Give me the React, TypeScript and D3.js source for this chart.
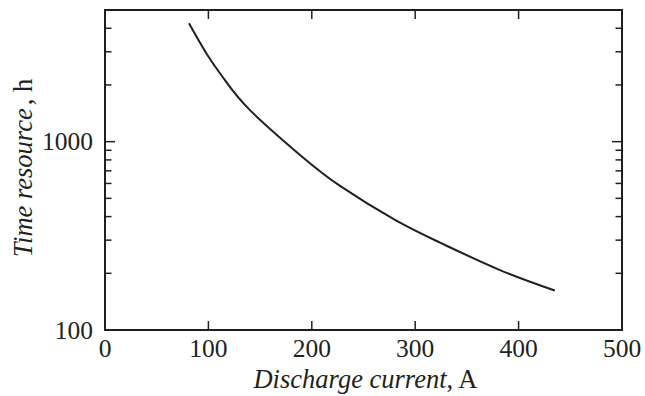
import React from "react";
import * as d3 from "d3";

const currentA = [81.2, 100, 116, 140.2, 188.6, 227.3, 280.5, 324, 382, 435];
const timeH = [4256, 2830, 2120, 1470, 850, 582, 384, 291, 208, 162];
const xTicks = [0, 100, 200, 300, 400, 500];
const yMajor = [100, 1000];
const yMinor = [200, 300, 400, 500, 600, 700, 800, 900, 2000, 3000, 4000];

const W = 645, H = 396;
const L = 105, R = 622, T = 10, B = 330;

export default function App() {
  const x = d3.scaleLinear().domain([0, 500]).range([L, R]);
  const y = d3.scaleLog().domain([100, 5000]).range([B, T]);
  const pts: [number, number][] = currentA.map((c, i) => [c, timeH[i]]);
  const line = d3
    .line<[number, number]>()
    .x((d) => x(d[0]))
    .y((d) => y(d[1]))
    .curve(d3.curveNatural);
  const col = "#231f20";
  const font = "Liberation Serif, Times New Roman, Times, serif";
  return (
    <svg
      width={W}
      height={H}
      style={{ position: "absolute", left: 0, top: 0, fontFamily: font }}
    >
      <rect x={0} y={0} width={W} height={H} fill="#fff" />
      {xTicks.slice(1, -1).map((t) => (
        <g key={"xt" + t}>
          <line x1={x(t)} x2={x(t)} y1={B} y2={B - 9} stroke={col} strokeWidth={1.5} />
          <line x1={x(t)} x2={x(t)} y1={T} y2={T + 9} stroke={col} strokeWidth={1.5} />
        </g>
      ))}
      {yMajor.map((t) => (
        <g key={"ym" + t}>
          <line x1={L} x2={L + 10} y1={y(t)} y2={y(t)} stroke={col} strokeWidth={1.5} />
          <line x1={R} x2={R - 10} y1={y(t)} y2={y(t)} stroke={col} strokeWidth={1.5} />
        </g>
      ))}
      {yMinor.map((t) => (
        <g key={"yn" + t}>
          <line x1={L} x2={L + 6.5} y1={y(t)} y2={y(t)} stroke={col} strokeWidth={1.5} />
          <line x1={R} x2={R - 6.5} y1={y(t)} y2={y(t)} stroke={col} strokeWidth={1.5} />
        </g>
      ))}
      <rect x={L} y={T} width={R - L} height={B - T} fill="none" stroke={col} strokeWidth={2} />
      <path d={line(pts) || ""} fill="none" stroke={col} strokeWidth={2} />
      {xTicks.map((t) => (
        <text key={"xl" + t} x={x(t)} y={357} textAnchor="middle" fontSize={25.5} fill={col}>
          {t}
        </text>
      ))}
      {yMajor.map((t) => (
        <text key={"yl" + t} x={93} y={y(t) + 8.5} textAnchor="end" fontSize={25.5} fill={col}>
          {t}
        </text>
      ))}
      <text x={365.5} y={388} textAnchor="middle" fontSize={26.5} fill={col}>
        <tspan fontStyle="italic">Discharge current</tspan>
        <tspan>, A</tspan>
      </text>
      <text
        transform={`translate(32, 168) rotate(-90)`}
        textAnchor="middle"
        fontSize={26.5}
        fill={col}
      >
        <tspan fontStyle="italic">Time resource</tspan>
        <tspan dx={3}>, h</tspan>
      </text>
    </svg>
  );
}
